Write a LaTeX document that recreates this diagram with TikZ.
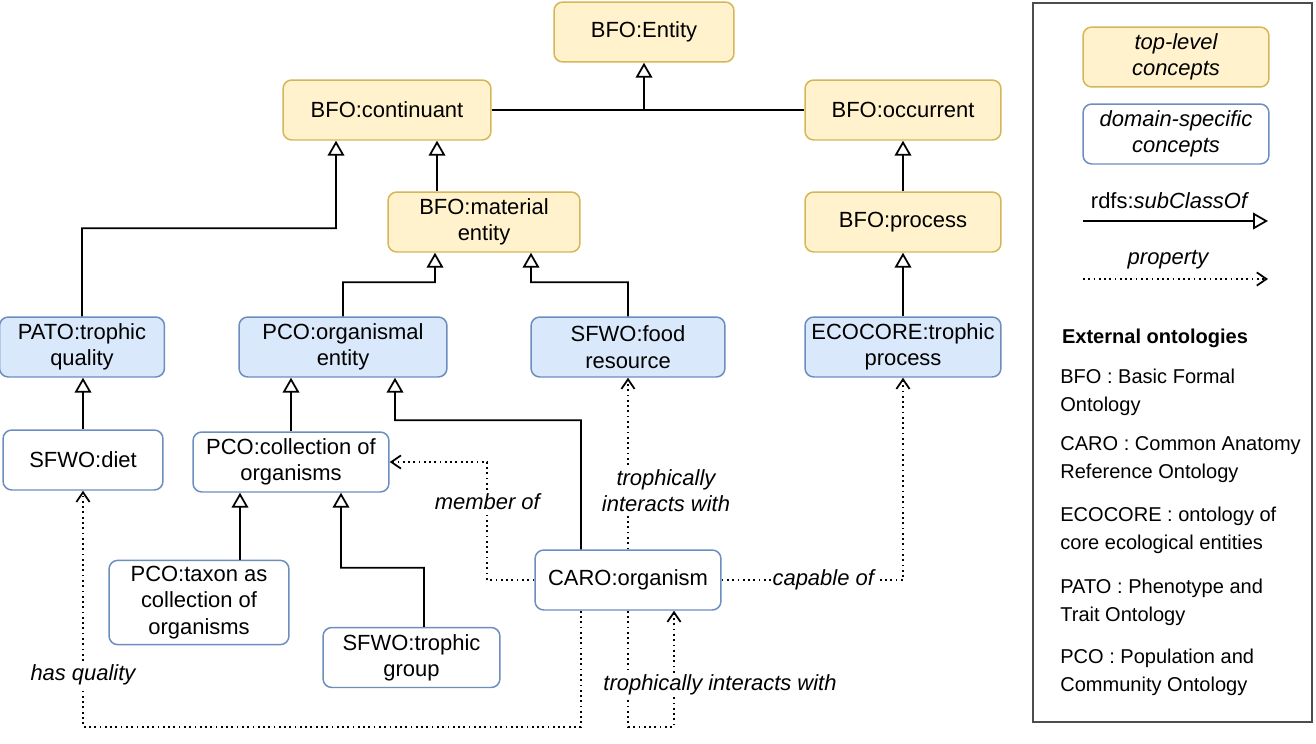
\documentclass[tikz,border=0pt]{standalone}
\usepackage{fontspec}
\setmainfont{Liberation Sans}
\usetikzlibrary{arrows.meta, positioning, calc}
\definecolor{toplevelfill}{HTML}{FFF2CC}
\definecolor{toplevelline}{HTML}{D6B656}
\definecolor{domainfill}{HTML}{DAE8FC}
\definecolor{domainline}{HTML}{6C8EBF}
\definecolor{legendline}{HTML}{4D4D4D}
\newcommand{\diagfont}{\fontsize{12.5}{15}\selectfont}
\newcommand{\keyfont}{\fontsize{11.4}{15.9}\selectfont}
\tikzstyle{toplevel_concept} = [rectangle, rounded corners=5pt, minimum height=1.2cm, line width=0.85pt, text centered, align=center, draw=toplevelline, fill=toplevelfill, font=\diagfont]
\tikzstyle{domain_concept} = [rectangle, rounded corners=5pt, minimum height=1.2cm, line width=0.85pt, text centered, align=center, draw=domainline, fill=domainfill, font=\diagfont]
\tikzstyle{domain_plain} = [rectangle, rounded corners=5pt, minimum height=1.2cm, line width=0.85pt, text centered, align=center, draw=domainline, fill=white, font=\diagfont]
\tikzstyle{link_solid} = [line width=1pt]
\tikzstyle{arrow_subclass} = [line width=1pt, -{Triangle[open, length=8.5pt, width=9.5pt]}]
\tikzstyle{arrow_property} = [line width=1pt, dash pattern=on 1pt off 2pt, -{Straight Barb[length=5.5pt, width=7.5pt]}]
\tikzstyle{prop_label} = [fill=white, inner sep=1pt, align=center, font=\diagfont\itshape]
\tikzstyle{legend_text} = [anchor=west, align=left, inner sep=0pt, font=\keyfont]

\begin{document}
\begin{tikzpicture}[x=0.02cm, y=-0.02cm]

	\useasboundingbox (0,0) rectangle (1316,744);

		% top-level concepts
		\node (entity) at (644,32) [toplevel_concept, minimum width=3.6cm] {BFO:Entity};
		\node (continuant) at (387,110) [toplevel_concept, minimum width=4.16cm] {BFO:continuant};
		\node (occurrent) at (903,110) [toplevel_concept, minimum width=3.92cm] {BFO:occurrent};
		\node (material) at (484,222) [toplevel_concept, minimum width=3.84cm] {BFO:material\\entity};
		\node (process) at (903,222) [toplevel_concept, minimum width=3.92cm] {BFO:process};

		% domain-specific concepts
		\node (pato) at (82,347) [domain_concept, minimum width=3.3cm] {PATO:trophic\\quality};
		\node (organismal) at (343,347) [domain_concept, minimum width=4.16cm] {PCO:organismal\\entity};
		\node (food) at (628,347) [domain_concept, minimum width=3.88cm] {SFWO:food\\resource};
		\node (ecocore) at (903,347) [domain_concept, minimum width=3.92cm] {ECOCORE:trophic\\process};

		\node (diet) at (83,460) [domain_plain, minimum width=3.2cm] {SFWO:diet};
		\node (collection) at (291,462) [domain_plain, minimum width=3.92cm] {PCO:collection of\\organisms};
		\node (taxon) at (199,602.5) [domain_plain, minimum width=3.6cm, minimum height=1.54cm] {PCO:taxon as\\collection of\\organisms};
		\node (group) at (411.5,657.5) [domain_plain, minimum width=3.54cm] {SFWO:trophic\\group};
		\node (caro) at (628,580) [domain_plain, minimum width=3.72cm] {CARO:organism};

		% subclass rows
		\coordinate (bfo_join) at (entity |- continuant);
		\draw [link_solid] (continuant) -- (occurrent);
		\draw [arrow_subclass] (bfo_join) -- (entity);
		\draw [arrow_subclass] ([xshift=-0.94cm]material.north) -- ([xshift=-0.94cm]material.north |- continuant.south);
		\draw [arrow_subclass] (pato.north) |- ++(254,-88) -- ([xshift=-1.02cm]continuant.south);
		\draw [arrow_subclass] (process) -- (occurrent);
		\draw [arrow_subclass] (ecocore) -- (process);
		% -
		\draw [arrow_subclass] (organismal.north) |- ++(92,-34) -- ([xshift=-0.98cm]material.south);
		\draw [arrow_subclass] (food.north) |- ++(-97,-34) -- ([xshift=0.94cm]material.south);
		% -
		\draw [arrow_subclass] (diet.north) -- (diet.north |- pato.south);
		\draw [arrow_subclass] (collection.north) -- (collection.north |- organismal.south);
		\draw [arrow_subclass] ([xshift=-0.94cm]caro.north) |- ++(-186,-129) -- ([xshift=1.04cm]organismal.south);
		\draw [arrow_subclass] ([xshift=0.82cm]taxon.north) -- ([xshift=0.82cm]taxon.north |- collection.south);
		\draw [arrow_subclass] ([xshift=0.25cm]group.north) |- ++(-83,-59) -- ([xshift=1cm]collection.south);

		% properties
		\draw [arrow_property] (caro.west) -| node [prop_label, pos=0.83] {member of} ++(-47,-118) -- (collection.east);
		\draw [arrow_property] (caro.north) -- node [prop_label, pos=0.34, xshift=0.76cm] {trophically\\interacts with} (food.south);
		\draw [arrow_property] (caro.east) -| node [prop_label, pos=0.28] {capable of} (ecocore.south);
		\draw [arrow_property] ([xshift=-0.94cm]caro.south) -- ++(0,116) -| node [prop_label, pos=0.61] {has quality} (diet.south);
		\draw [arrow_property] (caro.south) -- ++(0,116) -| node [prop_label, pos=0.68, xshift=0.92cm] {trophically interacts with} ([xshift=0.92cm]caro.south);

		% legend
		\node (legend) at (1172.5,362.5) [rectangle, draw=legendline, line width=0.85pt, minimum width=5.58cm, minimum height=14.38cm] {};
		\node (key_top) at (1176,57) [toplevel_concept, minimum width=3.72cm, font=\diagfont\itshape] {top-level\\concepts};
		\node (key_domain) at (1176,134) [domain_plain, minimum width=3.72cm, font=\diagfont\itshape] {domain-specific\\concepts};
		\node (key_sub) at (1170,201) [font=\diagfont] {rdfs:\textit{subClassOf}};
		\coordinate (sub_a) at (1083,221);
		\coordinate (sub_b) at (1268,221);
		\draw [arrow_subclass] (sub_a) -- (sub_b);
		\node (key_prop) at (1168,260) [font=\diagfont\itshape] {property};
		\coordinate (prop_a) at (1083,279);
		\coordinate (prop_b) at (1268,279);
		\draw [arrow_property] (prop_a) -- (prop_b);

		\node (ext_title) at (1155,338) [font=\keyfont\bfseries] {External ontologies};
		\node (ext_bfo) at (1060,392) [legend_text] {BFO : Basic Formal\\Ontology};
		\node (ext_caro) at (1060,460) [legend_text] {CARO : Common Anatomy\\Reference Ontology};
		\node (ext_ecocore) at (1060,530) [legend_text] {ECOCORE : ontology of\\core ecological entities};
		\node (ext_pato) at (1060,602) [legend_text] {PATO : Phenotype and\\Trait Ontology};
		\node (ext_pco) at (1060,672) [legend_text] {PCO : Population and\\Community Ontology};

\end{tikzpicture}
\end{document}
